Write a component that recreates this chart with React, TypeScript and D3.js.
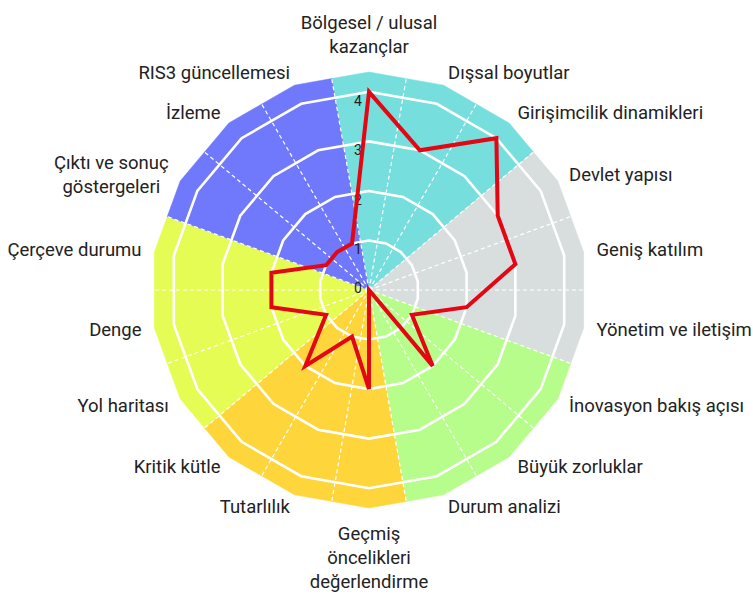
import React, { useEffect, useRef } from 'react';
import * as d3 from 'd3';

// axis labels, clockwise from the top
const categories: string[][] = [
  ['Bölgesel / ulusal', 'kazançlar'],
  ['Dışsal boyutlar'],
  ['Girişimcilik dinamikleri'],
  ['Devlet yapısı'],
  ['Geniş katılım'],
  ['Yönetim ve iletişim'],
  ['İnovasyon bakış açısı'],
  ['Büyük zorluklar'],
  ['Durum analizi'],
  ['Geçmiş', 'öncelikleri', 'değerlendirme'],
  ['Tutarlılık'],
  ['Kritik kütle'],
  ['Yol haritası'],
  ['Denge'],
  ['Çerçeve durumu'],
  ['Çıktı ve sonuç', 'göstergeleri'],
  ['İzleme'],
  ['RIS3 güncellemesi'],
];

const scores = [4, 3, 4, 3, 3, 2, 1, 2, 0, 2, 1, 2, 1, 2, 2, 1, 1, 1];

const ticks = [0, 1, 2, 3, 4];

// background groups, three axes each, starting at the top axis
const groupColors = ['#76dfde', '#d8dedd', '#b7fd8b', '#fed63c', '#e5fc54', '#7078fb'];

const W = 753, H = 595;
const cx = 369, cy = 290;
const maxValue = 4.4;

const App = () => {
  const ref = useRef<SVGSVGElement>(null);

  useEffect(() => {
    const svg = d3.select(ref.current);
    svg.selectAll('*').remove();

    const n = categories.length;
    const step = (2 * Math.PI) / n;
    const r = d3.scaleLinear().domain([0, maxValue]).range([0, 218]);
    const outer = r(maxValue);

    const g = svg.append('g').attr('transform', `translate(${cx},${cy})`);
    const pt = (a: number, rad: number): [number, number] => [Math.sin(a) * rad, -Math.cos(a) * rad];

    // coloured sectors
    groupColors.forEach((col, k) => {
      const a0 = (k * 3 - 0.5) * step;
      const pts: [number, number][] = [[0, 0]];
      pts.push(pt(a0, outer * Math.cos(step / 2)));
      for (let j = 0; j < 3; j++) pts.push(pt(a0 + (j + 0.5) * step, outer));
      pts.push(pt(a0 + 3 * step, outer * Math.cos(step / 2)));
      g.append('path')
        .attr('d', d3.line()(pts) + 'Z')
        .attr('fill', col)
        .attr('stroke', col)
        .attr('stroke-width', 0.5);
    });

    // dashed spokes between axes
    d3.range(n).forEach(i => {
      const [x, y] = pt((i + 0.5) * step, outer * Math.cos(step / 2));
      g.append('line')
        .attr('x1', 0).attr('y1', 0).attr('x2', x).attr('y2', y)
        .attr('stroke', '#fff')
        .attr('stroke-width', 1.2)
        .attr('stroke-dasharray', '4 3');
    });

    // rings
    const ring = d3.lineRadial<number>()
      .angle((_, i) => i * step)
      .curve(d3.curveLinearClosed);
    ticks.filter(t => t > 0).forEach(t => {
      g.append('path')
        .attr('d', ring.radius(() => r(t))(d3.range(n)))
        .attr('fill', 'none')
        .attr('stroke', '#fff')
        .attr('stroke-width', 2.6);
    });

    // tick labels
    g.selectAll('text.tick')
      .data(ticks)
      .enter()
      .append('text')
      .attr('class', 'tick')
      .attr('x', -11)
      .attr('y', d => (d === 0 ? -2 : -r(d) + 9))
      .attr('text-anchor', 'middle')
      .attr('dominant-baseline', 'central')
      .style('font-family', 'Roboto, sans-serif')
      .style('font-size', '14px')
      .style('fill', '#222')
      .text(d => d);

    // score line
    const line = d3.lineRadial<number>()
      .angle((_, i) => i * step)
      .radius(d => r(d))
      .curve(d3.curveLinearClosed);
    g.append('path')
      .attr('d', line(scores))
      .attr('fill', 'none')
      .attr('stroke', '#e30613')
      .attr('stroke-width', 4)
      .attr('stroke-linejoin', 'miter');

    // category labels
    const labelR = 231;
    const lh = 24;
    categories.forEach((lines, i) => {
      const a = i * step;
      const [x, y] = pt(a, labelR);
      const s = Math.sin(a);
      const anchor = Math.abs(s) < 0.01 ? 'middle' : s > 0 ? 'start' : 'end';
      let y0 = y - ((lines.length - 1) * lh) / 2;
      if (i === 0) y0 = y - 12 - (lines.length - 1) * lh;
      if (i === n / 2) y0 = y + 13;
      const t = g.append('text')
        .attr('text-anchor', lines.length > 1 && anchor !== 'middle' ? 'middle' : anchor)
        .style('font-family', 'Roboto, sans-serif')
        .style('font-size', '18.5px')
        .style('fill', '#222');
      lines.forEach((l, j) => {
        t.append('tspan')
          .attr('x', x)
          .attr('y', y0 + j * lh)
          .attr('dominant-baseline', 'central')
          .text(l);
      });
      // multi-line side labels: centred block whose edge sits on the anchor
      if (lines.length > 1 && anchor !== 'middle') {
        const bb = (t.node() as SVGTextElement).getBBox();
        const shift = anchor === 'end' ? x - (bb.x + bb.width) : x - bb.x;
        t.attr('transform', `translate(${shift},0)`);
      }
    });
  }, []);

  return (
    <svg ref={ref} width={W} height={H} style={{ position: 'absolute', left: 0, top: 0, background: '#fff' }} />
  );
};

export default App;
